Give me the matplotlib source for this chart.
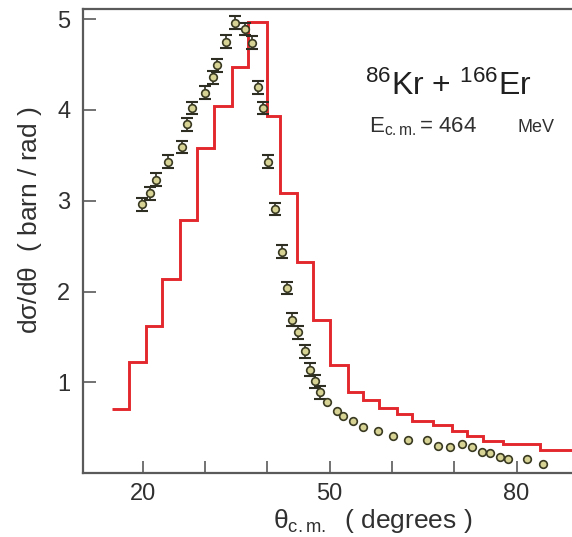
import numpy as np
import matplotlib.pyplot as plt

plt.rcParams['font.family'] = ['Liberation Sans', 'DejaVu Sans']
plt.rcParams['mathtext.fontset'] = 'custom'
plt.rcParams['mathtext.rm'] = 'Liberation Sans'
plt.rcParams['mathtext.it'] = 'Liberation Sans'
plt.rcParams['mathtext.default'] = 'regular'

# calculated distribution (histogram)
bin_edges = [15.0, 17.8, 20.5, 23.1, 25.9, 28.7, 31.4, 34.3, 36.9, 39.9,
             42.0, 44.7, 47.3, 50.0, 52.9, 55.3, 58.0, 60.8, 63.2, 66.6,
             69.6, 72.0, 74.6, 77.8, 83.7, 89.5]
calc = [0.71, 1.22, 1.62, 2.14, 2.79, 3.58, 4.04, 4.47, 4.97, 3.93,
        3.09, 2.32, 1.69, 1.19, 0.89, 0.80, 0.72, 0.65, 0.57, 0.53,
        0.46, 0.41, 0.35, 0.32, 0.25]

# measured points
theta = [19.8, 21.1, 22.2, 24.0, 26.3, 27.1, 27.9, 30.0, 31.2, 31.9,
         33.3, 34.8, 36.4, 37.5, 38.5, 39.3, 40.1, 41.2, 42.3, 43.1,
         43.9, 44.9, 46.0, 46.8, 47.6, 48.4, 49.5, 51.1, 52.1, 53.7,
         55.3, 57.7, 60.1, 62.5, 65.7, 67.4, 69.3, 71.2, 72.8, 74.4,
         75.7, 77.3, 78.6, 81.6, 84.2]
dsdt = [2.96, 3.08, 3.23, 3.43, 3.59, 3.84, 4.02, 4.19, 4.36, 4.49,
        4.75, 4.96, 4.89, 4.74, 4.25, 4.02, 3.43, 2.91, 2.44, 2.04,
        1.69, 1.55, 1.34, 1.14, 1.01, 0.89, 0.78, 0.68, 0.63, 0.57,
        0.51, 0.46, 0.41, 0.36, 0.36, 0.30, 0.29, 0.32, 0.29, 0.23,
        0.22, 0.18, 0.15, 0.15, 0.10]
err = [0.07] * 26 + [0.0] * 19

theta = np.array(theta)
dsdt = np.array(dsdt)
err = np.array(err)

fig = plt.figure(figsize=(5.72, 5.37), dpi=100)
ax = fig.add_axes([0.145, 0.119, 0.855, 0.864])

# histogram as step line, no drop to zero at the ends
ax.stairs(calc, bin_edges, baseline=None, color='#e2282e', lw=2.1, zorder=2)

m = err > 0
ax.errorbar(theta[m], dsdt[m], yerr=err[m], fmt='none', ecolor='#2e2e22',
            elinewidth=1.2, capsize=4.5, capthick=1.5, zorder=3)
ax.plot(theta, dsdt, 'o', ms=5.5, mfc='#d6d394', mec='#3a3a22', mew=1.2,
        zorder=4)

ax.set_xlim(10.4, 88.9)
ax.set_ylim(0, 5.11)
ax.set_xticks([20, 30, 40, 50, 60, 70, 80])
ax.set_xticklabels(['20', '', '', '50', '', '', '80'])
ax.set_yticks([1, 2, 3, 4, 5])

for s in ['left', 'bottom', 'top']:
    ax.spines[s].set_color('#5a5a5a')
    ax.spines[s].set_linewidth(1.6)
ax.spines['right'].set_visible(False)
ax.tick_params(direction='in', length=9, width=1.2, color='#5a5a5a',
               labelsize=17, labelcolor='#303030', pad=7)
ax.tick_params(axis='y', pad=9)

ax.set_ylabel(r'd$\sigma$/d$\theta$  ( barn / rad )', fontsize=19,
              color='#303030')
ax.yaxis.set_label_coords(-0.08, 0.545)
ax.set_xlabel(r'$\theta_{c.m.}$  ( degrees )', fontsize=19, color='#303030')
ax.xaxis.set_label_coords(0.593, -0.072)

ax.text(0.577, 0.815, r'$^{86}$Kr + $^{166}$Er', transform=ax.transAxes,
        fontsize=23, color='#202020')
ax.text(0.584, 0.735, r'E$_{c.m.}$= 464', transform=ax.transAxes,
        fontsize=16, color='#303030')
ax.text(0.888, 0.735, 'MeV', transform=ax.transAxes, fontsize=13,
        color='#303030')

fig.savefig('out.png', dpi=100)
